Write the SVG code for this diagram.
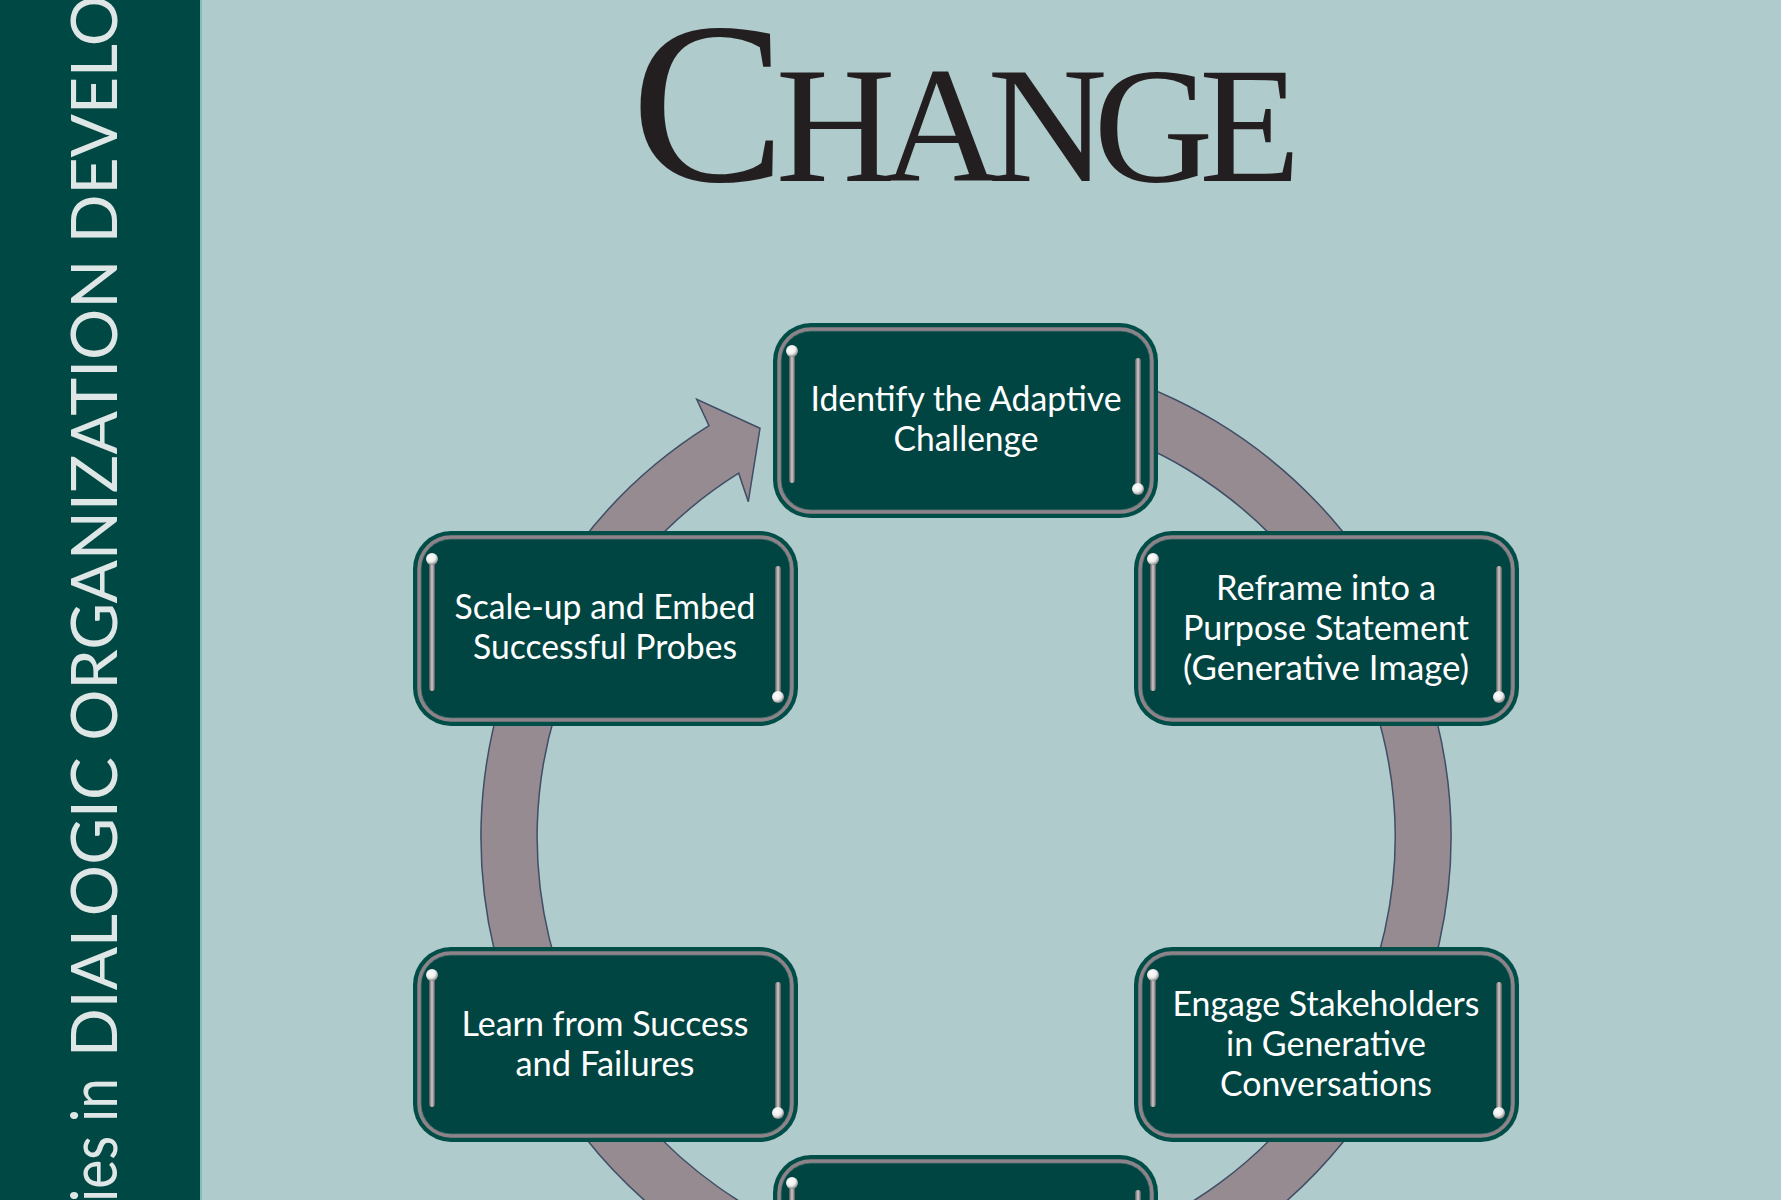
<svg xmlns="http://www.w3.org/2000/svg" xmlns:xlink="http://www.w3.org/1999/xlink" width="1781" height="1200" viewBox="0 0 1781 1200">
  <style>
    .lbl { font-family: Lato, "Open Sans", "Liberation Sans", sans-serif; font-size: 34px; fill: #ffffff; text-anchor: middle; }
    .strip { font-family: Lato, "Open Sans", "Liberation Sans", sans-serif; font-size: 64px; fill: #dfe6e6; }
    .title { font-family: "Liberation Serif", "Times New Roman", serif; fill: #231f20; }
  </style>
  <defs>
    <linearGradient id="pinGrad" x1="0" y1="0" x2="1" y2="0">
      <stop offset="0" stop-color="#5a5456"/>
      <stop offset="0.5" stop-color="#cfcbcd"/>
      <stop offset="1" stop-color="#5a5456"/>
    </linearGradient>
    <radialGradient id="ballGrad" cx="0.4" cy="0.35" r="0.65">
      <stop offset="0" stop-color="#ffffff"/>
      <stop offset="0.6" stop-color="#ececec"/>
      <stop offset="1" stop-color="#8a8889"/>
    </radialGradient>
    <g id="box">
      <rect x="0" y="0" width="385" height="195" rx="38" fill="#014e49"/>
      <rect x="6" y="6" width="373" height="183" rx="32" fill="#004542" stroke="#8e8388" stroke-width="3.5"/>
      <rect x="8" y="8" width="369" height="179" rx="30" fill="none" stroke="#b8b0b3" stroke-width="0.8" opacity="0.5"/>
      <rect x="16" y="27" width="6" height="133" rx="3" fill="url(#pinGrad)"/>
      <circle cx="19" cy="28" r="6" fill="url(#ballGrad)"/>
      <rect x="362" y="35" width="6" height="132" rx="3" fill="url(#pinGrad)"/>
      <circle cx="365" cy="166" r="6" fill="url(#ballGrad)"/>
    </g>
  </defs>

  <!-- background -->
  <rect x="0" y="0" width="1781" height="1200" fill="#b0cbcc"/>

  <!-- left strip -->
  <g id="spine">
    <rect x="0" y="0" width="200" height="1200" fill="#004843"/>
    <rect x="200" y="0" width="2" height="1200" fill="#7fc0bb"/>
    <text class="strip" transform="translate(117,1202) rotate(-90)" textLength="124" lengthAdjust="spacingAndGlyphs">ies in</text>
    <text class="strip" transform="translate(117,1057) rotate(-90)" textLength="1062" lengthAdjust="spacingAndGlyphs">DIALOGIC ORGANIZATION DEVELO</text>
  </g>

  <!-- title -->
  <g id="title">
    <text class="title" x="631" y="181"><tspan font-size="232">C</tspan><tspan dx="-10" font-size="166" letter-spacing="-14">HANGE</tspan></text>
  </g>

  <!-- connectors -->
  <g id="connectors">
    <path d="M 881.8 359.4 A 485 485 0 1 1 709.0 425.7 L 696.7 399.3 L 760 428.3 L 748.3 501.7 L 738.7 473.2 A 429 429 0 1 0 891.5 414.5 Z" fill="#968b90" stroke="#3f4d66" stroke-width="1.5" stroke-linejoin="miter"/>
  </g>

  <!-- nodes -->
  <g id="node-identify">
    <use xlink:href="#box" href="#box" x="773" y="323"/>
    <text class="lbl" x="966" y="411" textLength="311" lengthAdjust="spacingAndGlyphs">Identify the Adaptive</text>
    <text class="lbl" x="966" y="451" textLength="145" lengthAdjust="spacingAndGlyphs">Challenge</text>
  </g>

  <g id="node-reframe">
    <use xlink:href="#box" href="#box" x="1134" y="531"/>
    <text class="lbl" x="1326" y="600" textLength="220" lengthAdjust="spacingAndGlyphs">Reframe into a</text>
    <text class="lbl" x="1326" y="640" textLength="286" lengthAdjust="spacingAndGlyphs">Purpose Statement</text>
    <text class="lbl" x="1326" y="680" textLength="286" lengthAdjust="spacingAndGlyphs">(Generative Image)</text>
  </g>

  <g id="node-engage">
    <use xlink:href="#box" href="#box" x="1134" y="947"/>
    <text class="lbl" x="1326" y="1016" textLength="307" lengthAdjust="spacingAndGlyphs">Engage Stakeholders</text>
    <text class="lbl" x="1326" y="1056" textLength="200" lengthAdjust="spacingAndGlyphs">in Generative</text>
    <text class="lbl" x="1326" y="1096" textLength="212" lengthAdjust="spacingAndGlyphs">Conversations</text>
  </g>

  <g id="node-bottom">
    <use xlink:href="#box" href="#box" x="773" y="1155"/>
  </g>

  <g id="node-learn">
    <use xlink:href="#box" href="#box" x="413" y="947"/>
    <text class="lbl" x="605" y="1036" textLength="287" lengthAdjust="spacingAndGlyphs">Learn from Success</text>
    <text class="lbl" x="605" y="1076" textLength="179" lengthAdjust="spacingAndGlyphs">and Failures</text>
  </g>

  <g id="node-scale">
    <use xlink:href="#box" href="#box" x="413" y="531"/>
    <text class="lbl" x="605" y="619" textLength="301" lengthAdjust="spacingAndGlyphs">Scale-up and Embed</text>
    <text class="lbl" x="605" y="659" textLength="264" lengthAdjust="spacingAndGlyphs">Successful Probes</text>
  </g>
</svg>
